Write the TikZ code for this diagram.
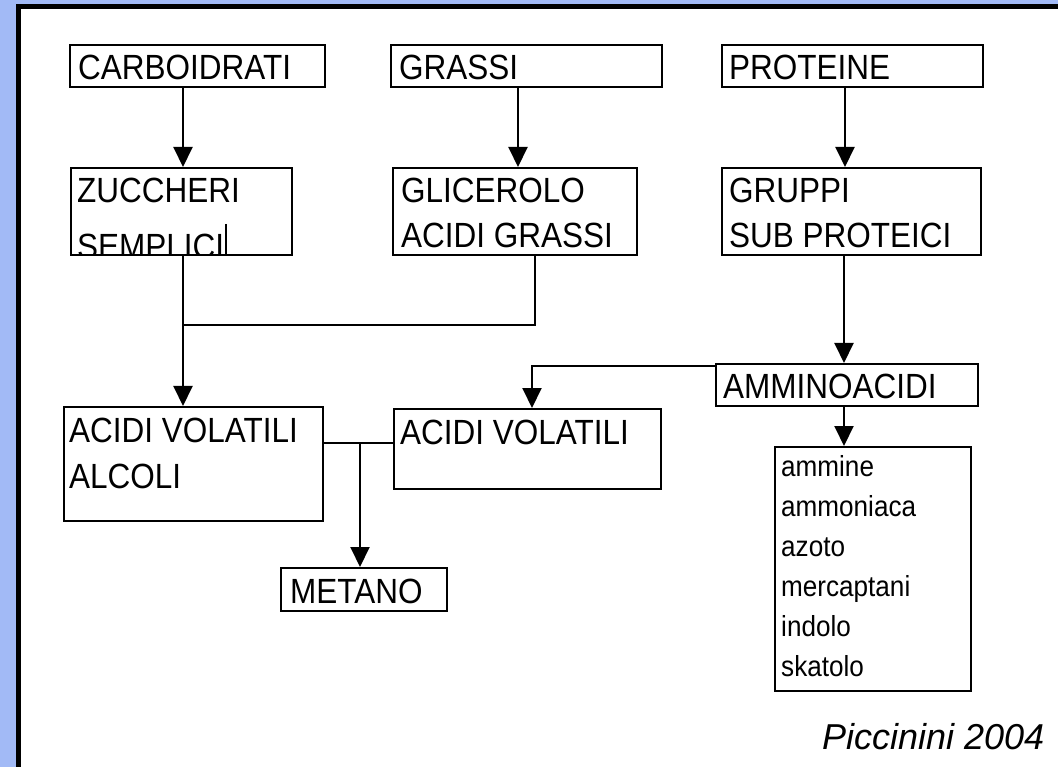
\documentclass[tikz,border=0pt]{standalone}
\usepackage{fontspec}
\usetikzlibrary{arrows.meta,calc}
\newfontfamily\boxfont[FakeStretch=0.9]{Liberation Sans}
\newfontfamily\signfont{Liberation Sans}
\definecolor{framebg}{RGB}{162,186,246}
\tikzset{
  box/.style={draw, line width=2pt, rectangle, inner sep=0pt, anchor=north west},
  txt/.style={inner sep=0pt, anchor=base west, font=\boxfont\fontsize{35}{42}\selectfont},
  small/.style={inner sep=0pt, anchor=base west, font=\boxfont\fontsize{29}{34}\selectfont},
  ln/.style={line width=2pt},
  arr/.style={line width=2pt, -{Triangle[length=20pt,width=19pt]}}
}
\begin{document}
\begin{tikzpicture}[x=1pt,y=-1pt]
\useasboundingbox (0,0) rectangle (1058,767);
% frame
\fill[framebg] (0,0) rectangle (1058,767);
\fill[white] (18.5,6.5) rectangle (1058,767);
\draw[line width=5pt] (18.5,767) -- (18.5,6.5) -- (1058,6.5);

% boxes
\node[box, minimum width=255pt, minimum height=42pt] (carb) at (69,44) {};
\node[box, minimum width=271pt, minimum height=42pt] (grassi) at (390,44) {};
\node[box, minimum width=261pt, minimum height=42pt] (prot) at (721,44) {};
\node[box, minimum width=221pt, minimum height=87pt] (zucch) at (70,167) {};
\node[box, minimum width=244pt, minimum height=87pt] (glic) at (392,167) {};
\node[box, minimum width=259pt, minimum height=87pt] (grup) at (721,167) {};
\node[box, minimum width=262pt, minimum height=42pt] (amino) at (715,363) {};
\node[box, minimum width=259pt, minimum height=114pt] (avalc) at (63,406) {};
\node[box, minimum width=267pt, minimum height=80pt] (avol) at (393,408) {};
\node[box, minimum width=166pt, minimum height=43pt] (metano) at (280,567) {};
\node[box, minimum width=196pt, minimum height=244pt] (prod) at (774,446) {};

% labels
\node[txt] (tcarb) at (78,80) {CARBOIDRATI};
\node[txt] (tgrassi) at (399,80) {GRASSI};
\node[txt] (tprot) at (729,80) {PROTEINE};
\node[txt] (tzucch) at (77,203) {ZUCCHERI};
\begin{scope}
  \clip (zucch.north west) rectangle (zucch.south east);
  \node[txt] (tsemp) at (77,259) {SEMPLICI};
\end{scope}
\draw[line width=1.2pt] (226,224) -- (226,254);
\node[txt] (tglic) at (401,203) {GLICEROLO};
\node[txt] (tag) at (401,248) {ACIDI GRASSI};
\node[txt] (tgrup) at (729,203) {GRUPPI};
\node[txt] (tsub) at (729,248) {SUB PROTEICI};
\node[txt] (tamino) at (723,399) {AMMINOACIDI};
\node[txt] (tav1) at (69,442) {ACIDI VOLATILI};
\node[txt] (talc) at (69,488) {ALCOLI};
\node[txt] (tav2) at (400,444) {ACIDI VOLATILI};
\node[txt] (tmet) at (290,603) {METANO};
\node[small] (p1) at (781,476) {ammine};
\node[small] (p2) at (781,516) {ammoniaca};
\node[small] (p3) at (781,556) {azoto};
\node[small] (p4) at (781,596) {mercaptani};
\node[small] (p5) at (781,636) {indolo};
\node[small] (p6) at (781,676) {skatolo};
\node[inner sep=0pt, anchor=base west, font=\signfont\itshape\fontsize{36}{42}\selectfont] (sign) at (822,749) {Piccinini 2004};

% connector columns and rows
\coordinate (c1) at (183,0);
\coordinate (c2) at (518,0);
\coordinate (c3) at (845,0);
\coordinate (c4) at (535,0);
\coordinate (c5) at (844,0);
\coordinate (c6) at (532,0);
\coordinate (c7) at (360,0);
\coordinate (r1) at (0,325);
\coordinate (r2) at (0,366);
\coordinate (r3) at (0,443);

\draw[arr] (carb.south -| c1) -- (zucch.north -| c1);
\draw[arr] (grassi.south -| c2) -- (glic.north -| c2);
\draw[arr] (prot.south -| c3) -- (grup.north -| c3);
\draw[arr] (zucch.south -| c1) -- (avalc.north -| c1);
\draw[ln] (glic.south -| c4) -- (c4 |- r1) -- (c1 |- r1);
\draw[arr] (grup.south -| c5) -- (amino.north -| c5);
\draw[arr] (amino.west |- r2) -- (c6 |- r2) -- (avol.north -| c6);
\draw[ln] (avalc.east |- r3) -- (avol.west |- r3);
\draw[arr] (c7 |- r3) -- (metano.north -| c7);
\draw[arr] (amino.south -| c5) -- (prod.north -| c5);
\end{tikzpicture}
\end{document}
